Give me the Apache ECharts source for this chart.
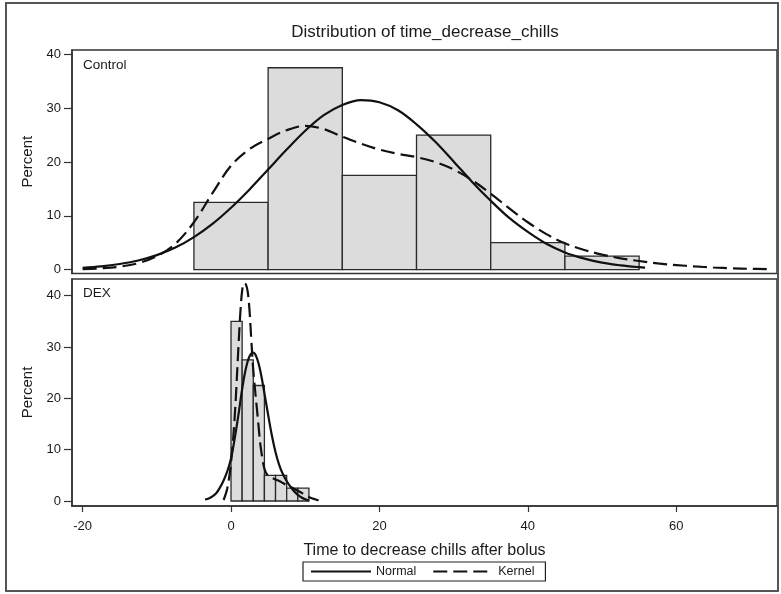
<!DOCTYPE html>
<html>
<head>
<meta charset="utf-8">
<script src="https://cdn.jsdelivr.net/npm/echarts@6/dist/echarts.min.js"></script>
<style>
  html, body { margin: 0; padding: 0; background: #fff; }
  #chart { width: 781px; height: 594px; }
</style>
</head>
<body>
<div id="chart"></div>
<script>
// Histogram bins (edges) and percentages per group
const controlEdges = [-5, 5, 15, 25, 35, 45, 55];
const controlPercent = [12.5, 37.5, 17.5, 25, 5, 2.5];
const dexEdges = [0, 1.5, 3, 4.5, 6, 7.5, 9, 10.5];
const dexPercent = [35, 27.5, 22.5, 5, 5, 2.5, 2.5];

// Normal-density overlay, Control group
const controlNormalX = [-20, -17.5, -15, -12.5, -10, -7.5, -5, -2.5, 0, 2.5, 5, 7.5, 10, 12.5, 15, 17.5, 20, 22.5, 25, 27.5, 30, 32.5, 35, 37.5, 40, 42.5, 45, 47.5, 50, 52.5, 55, 55.8];
const controlNormal = [0.35, 0.6, 1.05, 1.7, 2.7, 4.1, 6.05, 8.5, 11.5, 14.9, 18.6, 22.3, 25.8, 28.7, 30.6, 31.5, 31.1, 29.6, 27.0, 23.8, 20.1, 16.3, 12.8, 9.6, 7.0, 4.8, 3.2, 2.1, 1.3, 0.8, 0.45, 0.38];

// Kernel-density overlay, Control group
const controlKernelX = [-20, -17.5, -15, -12.5, -10, -7.5, -5, -2.5, 0, 2.5, 5, 7.5, 10, 12.5, 15, 17.5, 20, 22.5, 25, 27.5, 30, 32.5, 35, 37.5, 40, 42.5, 45, 47.5, 50, 52.5, 55, 57.5, 60, 62.5, 65, 67.5, 70, 72.2];
const controlKernel = [0.1, 0.25, 0.55, 1.2, 2.5, 4.8, 8.8, 14.2, 19.3, 22.4, 24.3, 25.9, 26.7, 26.1, 24.7, 23.4, 22.3, 21.5, 20.9, 20.0, 18.6, 16.6, 14.1, 11.4, 8.8, 6.6, 4.9, 3.7, 2.8, 2.1, 1.6, 1.15, 0.85, 0.6, 0.4, 0.25, 0.15, 0.1];

// Normal-density overlay, DEX group
const dexNormalX = [-3.5, -3, -2.5, -2, -1.5, -1, -0.5, 0, 0.5, 1, 1.5, 2, 2.5, 3, 3.5, 4, 4.5, 5, 5.5, 6, 6.5, 7, 7.5, 8, 8.5, 9, 9.5, 10, 10.5];
const dexNormal = [0.3, 0.5, 0.9, 1.5, 2.6, 4.0, 5.8, 8.3, 12.2, 16.8, 21.8, 25.8, 28.2, 28.9, 27.8, 25.0, 21.0, 16.8, 12.8, 9.5, 7.0, 5.2, 3.9, 2.8, 1.9, 1.2, 0.7, 0.35, 0.1];

// Kernel-density overlay, DEX group
const dexKernelX = [-1, -0.5, 0, 0.5, 1, 1.25, 1.5, 1.75, 2, 2.25, 2.5, 2.75, 3, 3.25, 3.5, 3.75, 4, 4.5, 5, 5.5, 6, 6.5, 7, 7.5, 8, 8.5, 9, 9.5, 10, 10.5, 11, 11.5, 11.8];
const dexKernel = [0.2, 2.5, 7.5, 16.5, 30.0, 36.5, 41.0, 42.5, 42.2, 40.8, 37.0, 31.0, 25.5, 21.5, 17.8, 14.0, 10.5, 6.3, 4.9, 4.5, 4.2, 3.9, 3.5, 3.1, 2.8, 2.4, 2.0, 1.6, 1.2, 0.8, 0.5, 0.25, 0.1];

// Axis ticks
const xTicks = [-20, 0, 20, 40, 60];
const yTicks = [0, 10, 20, 30, 40];

const FONT = '"Liberation Sans", Arial, Helvetica, sans-serif';
const INK = '#1a1a1a';
const FRAME = '#333';

function histogram(edges, values, idx) {
  return {
    type: 'custom',
    xAxisIndex: idx,
    yAxisIndex: idx,
    silent: true,
    z: 1,
    data: values.map((v, i) => [edges[i], edges[i + 1], v]),
    encode: { x: [0, 1], y: 2 },
    renderItem(params, api) {
      const top = api.coord([api.value(0), api.value(2)]);
      const base = api.coord([api.value(1), 0]);
      return {
        type: 'rect',
        shape: { x: top[0], y: top[1], width: base[0] - top[0], height: base[1] - top[1] },
        style: { fill: '#dcdcdc', stroke: '#2a2a2a', lineWidth: 1.3 }
      };
    }
  };
}

function curve(name, xs, ys, idx, dashed) {
  return {
    type: 'line',
    name: name,
    xAxisIndex: idx,
    yAxisIndex: idx,
    data: xs.map((x, i) => [x, ys[i]]),
    symbol: 'none',
    showSymbol: false,
    smooth: 0.35,
    silent: true,
    z: 3,
    itemStyle: { color: '#111' },
    lineStyle: { color: '#111', width: 2.2, type: dashed ? [14, 6] : 'solid' }
  };
}

const xMin = -21.43, xMax = 73.58;

function xAxis(idx, showLabels) {
  return {
    type: 'value',
    gridIndex: idx,
    min: xMin,
    max: xMax,
    splitLine: { show: false },
    axisLine: { show: showLabels, onZero: false, lineStyle: { color: FRAME, width: 1.5 } },
    axisTick: { show: showLabels, customValues: xTicks, length: 6, lineStyle: { color: FRAME, width: 1.2 } },
    axisLabel: { show: showLabels, customValues: xTicks, margin: 14, fontSize: 13, color: INK, fontFamily: FONT },
    name: showLabels ? 'Time to decrease chills after bolus' : '',
    nameLocation: 'middle',
    nameGap: 37,
    nameTextStyle: { fontSize: 16, color: INK, fontFamily: FONT }
  };
}

function yAxis(idx, min, max) {
  return {
    type: 'value',
    gridIndex: idx,
    min: min,
    max: max,
    splitLine: { show: false },
    axisLine: { show: true, onZero: false, lineStyle: { color: FRAME, width: 1.5 } },
    axisTick: { show: true, customValues: yTicks, length: 8, lineStyle: { color: FRAME, width: 1.2 } },
    axisLabel: { customValues: yTicks, margin: 11, fontSize: 13, color: INK, fontFamily: FONT },
    name: 'Percent',
    nameLocation: 'middle',
    nameGap: 33,
    nameTextStyle: { fontSize: 15, color: INK, fontFamily: FONT }
  };
}

const chart = echarts.init(document.getElementById('chart'), null, { renderer: 'canvas' });

chart.setOption({
  animation: false,
  backgroundColor: '#fff',
  textStyle: { fontFamily: FONT },
  grid: [
    { left: 72, top: 50, width: 705, height: 223.4, show: true, borderColor: FRAME, borderWidth: 1.5, backgroundColor: 'transparent' },
    { left: 72, top: 279, width: 705, height: 227, show: true, borderColor: FRAME, borderWidth: 1.5, backgroundColor: 'transparent' }
  ],
  xAxis: [xAxis(0, false), xAxis(1, true)],
  yAxis: [yAxis(0, -0.7, 40.8), yAxis(1, -0.97, 43.25)],
  legend: {
    data: ['Normal', 'Kernel'],
    left: 303,
    top: 562,
    orient: 'horizontal',
    itemWidth: 60,
    itemHeight: 10,
    itemGap: 16,
    padding: [3, 11, 3, 7],
    borderColor: '#222',
    borderWidth: 1.2,
    selectedMode: false,
    itemStyle: { opacity: 0 },
    textStyle: { fontSize: 12.5, color: INK, fontFamily: FONT }
  },
  graphic: [
    {
      type: 'rect',
      shape: { x: 6, y: 3, width: 772, height: 588 },
      style: { fill: 'none', stroke: '#555', lineWidth: 2 },
      silent: true
    },
    {
      type: 'text',
      x: 425, y: 32,
      style: { text: 'Distribution of time_decrease_chills', font: '17px ' + FONT, fill: INK, align: 'center', verticalAlign: 'middle' }
    },
    {
      type: 'text',
      x: 83, y: 65,
      style: { text: 'Control', font: '13.5px ' + FONT, fill: INK, align: 'left', verticalAlign: 'middle' }
    },
    {
      type: 'text',
      x: 83, y: 293.5,
      style: { text: 'DEX', font: '13.5px ' + FONT, fill: INK, align: 'left', verticalAlign: 'middle' }
    }
  ],
  series: [
    histogram(controlEdges, controlPercent, 0),
    curve('Normal', controlNormalX, controlNormal, 0, false),
    curve('Kernel', controlKernelX, controlKernel, 0, true),
    histogram(dexEdges, dexPercent, 1),
    curve('Normal', dexNormalX, dexNormal, 1, false),
    curve('Kernel', dexKernelX, dexKernel, 1, true)
  ]
});
</script>
</body>
</html>
